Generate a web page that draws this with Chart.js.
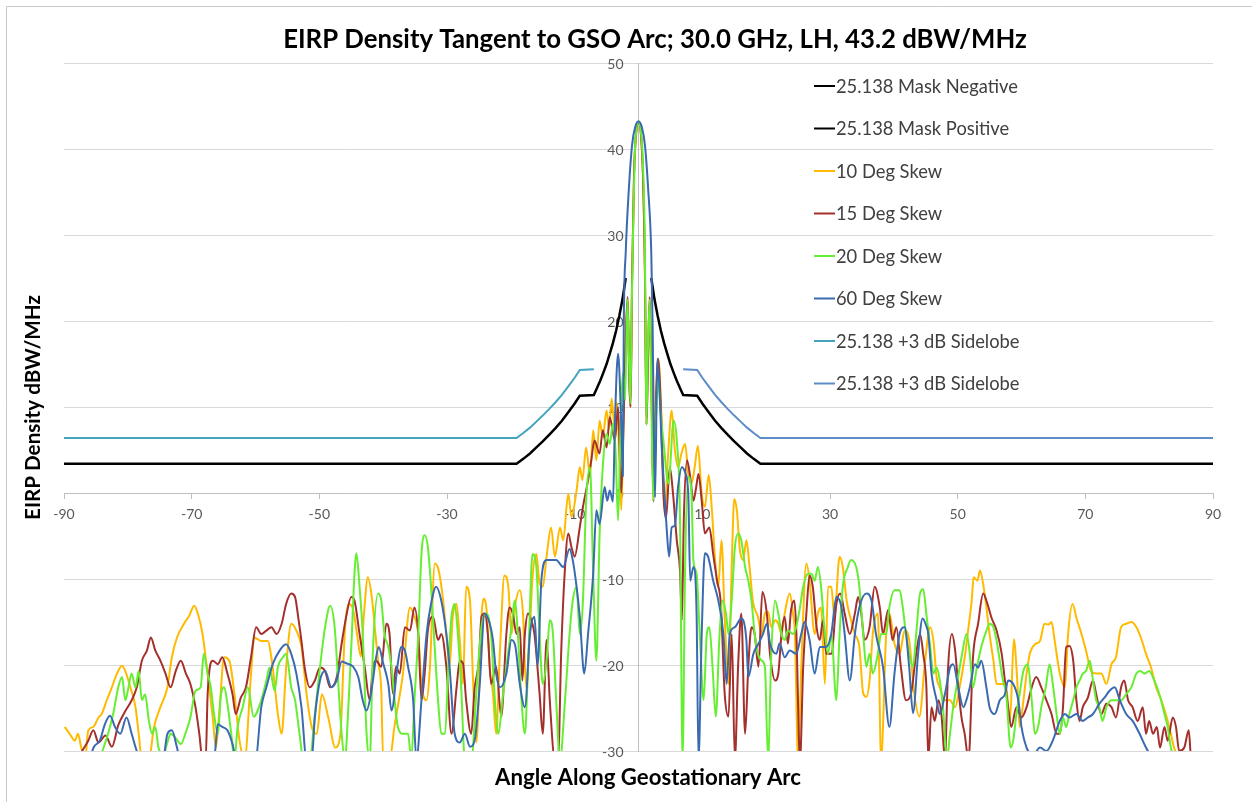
<!DOCTYPE html>
<html><head><meta charset="utf-8">
<script src="https://cdn.jsdelivr.net/npm/chart.js@4.4.1/dist/chart.umd.min.js"></script>
<style>html,body{margin:0;padding:0;background:#fff;overflow:hidden}canvas{display:block}</style>
</head><body>
<canvas id="c" width="1252" height="802"></canvas>
<script>
const chartTitle = 'EIRP Density Tangent to GSO Arc; 30.0 GHz, LH, 43.2 dBW/MHz';
const xAxisTitle = 'Angle Along Geostationary Arc';
const yAxisTitle = 'EIRP Density dBW/MHz';
const seriesLabels = ['25.138 Mask Negative','25.138 Mask Positive','10 Deg Skew','15 Deg Skew','20 Deg Skew','60 Deg Skew','25.138 +3 dB Sidelobe','25.138 +3 dB Sidelobe'];
const xTickStep = 20, yTickStep = 10;

const maskNegAngles = [-90,-19.1,-18,-17,-16,-15,-14,-13,-12,-11,-10,-9.2,-7,-6.5,-6,-5.5,-5,-4.5,-4,-3.5,-3,-2.5,-2];
const maskNegValues = [3.4,3.4,4.0,4.6,5.3,6.0,6.75,7.55,8.4,9.4,10.4,11.3,11.4,12.2,13.05,14.0,15.0,16.2,17.45,18.9,20.6,22.55,25.0];
const maskPosAngles = [2,2.5,3,3.5,4,4.5,5,5.5,6,6.5,7,9.2,10,11,12,13,14,15,16,17,18,19.1,90];
const maskPosValues = [25.0,22.55,20.6,18.9,17.45,16.2,15.0,14.0,13.05,12.2,11.4,11.3,10.4,9.4,8.4,7.55,6.75,6.0,5.3,4.6,4.0,3.4,3.4];
const sidelobeNegAngles = [-90,-19.1,-18,-17,-16,-15,-14,-13,-12,-11,-10,-9.2,-7];
const sidelobeNegValues = [6.4,6.4,7.0,7.6,8.3,9.0,9.75,10.55,11.4,12.4,13.4,14.3,14.4];
const sidelobePosAngles = [7,9.2,10,11,12,13,14,15,16,17,18,19.1,90];
const sidelobePosValues = [14.4,14.3,13.4,12.4,11.4,10.55,9.75,9.0,8.3,7.6,7.0,6.4,6.4];

const skew10Angles = [-89.9,-89.1,-88.3,-87.8,-87.3,-86.7,-86.2,-85.4,-84.6,-84.1,-83.3,-82.5,-81.7,-80.9,-80.4,-79.6,-78.8,-78.3,-77.8,-76.7,-75.9,-74.9,-73.8,-73.1,-72.3,-71.2,-70.4,-69.6,-69,-68.3,-67.5,-66.7,-66.2,-65.7,-64.9,-64.1,-63.3,-62.5,-61.7,-60.7,-60.2,-59.1,-58.1,-57.3,-56.5,-55.9,-55.2,-54.4,-53.6,-52.8,-52,-51.2,-50.4,-49.6,-48.6,-47.5,-46.7,-46,-45.4,-44.8,-44.1,-43.5,-43,-42.4,-41.8,-41.2,-40.8,-40.3,-40,-39,-38.2,-36.9,-35.8,-35.2,-34.5,-34,-33.2,-32.7,-31.9,-31.3,-30.6,-30.1,-29.6,-29.1,-28.5,-28,-27.5,-27,-26.4,-25.9,-25.4,-24.6,-24.3,-23.8,-23.3,-22.8,-22.3,-21.7,-21,-20.4,-19.9,-19.4,-18.6,-18.1,-17.6,-17,-16.6,-16,-15.5,-15,-14.4,-13.7,-13.1,-12.3,-11.8,-11,-10.5,-9.7,-9.2,-8.8,-8.2,-7.6,-7.1,-6.6,-6.1,-5.6,-5,-4.6,-4.2,-3.8,-3.4,-3,-2.7,-2.35,-2,-1.7,-1.45,-1.25,-1,-0.7,-0.35,0,0.35,0.7,1,1.25,1.45,1.75,2,2.3,2.6,3.1,3.6,4.1,4.6,5.2,5.7,6.2,6.7,7.3,7.8,8.3,8.8,9.3,9.9,10.4,11,11.5,12,12.5,13,13.5,14.1,14.6,15,15.4,15.9,16.4,16.9,17.4,17.9,18.7,19.3,19.8,20.3,20.8,21.4,21.9,22.4,22.9,23.7,24.2,24.5,25,25.5,26.3,26.8,27.6,28.1,28.6,29.2,29.7,30.2,30.7,31.5,32,32.6,33.3,33.9,34.6,35.2,35.7,36.2,36.7,37.5,38,38.8,39.3,40.1,40.9,41.7,42.4,43.2,44,44.9,45.7,46.2,46.7,47.2,48,48.8,49.6,50.3,51.1,51.7,52.2,52.5,53.1,53.5,54,54.5,55,55.6,56.1,56.9,57.6,58.2,58.8,59.3,59.7,60.3,60.8,61.3,62.1,62.9,63.6,64.2,64.7,65.2,66,66.8,67.3,68,68.6,69.4,70.1,70.9,71.7,72.5,73.3,74.1,74.8,75.6,76.4,77.2,78,78.7,79.5,80.3,81.1,81.9,82.6,83.4,83.9,84.7];
const skew10Values = [-27.2,-28,-28.8,-28,-29.6,-31,-27.6,-27.2,-26.1,-25.7,-24.1,-22.6,-21,-20.1,-20.7,-22.6,-24.9,-28,-31,-31,-27.2,-24.9,-22.6,-19.1,-16.8,-15.2,-14.3,-13.1,-14.1,-16.4,-21,-26.1,-29.6,-25.7,-19.1,-19.5,-23.4,-28.8,-31,-21,-16.8,-17.2,-17.2,-20.3,-25.7,-28,-20.3,-15.2,-16,-17.9,-23.4,-27.2,-28,-23.4,-26.1,-29.6,-28,-16,-12.9,-13.3,-16.4,-19,-14,-9.8,-12,-16.5,-19.5,-22.9,-31,-31,-27,-21,-13.3,-14.2,-16.4,-22.2,-24.1,-20.6,-8.2,-9,-12.5,-16.4,-20.2,-14.4,-12.9,-17.1,-22.2,-10.9,-12.5,-22.2,-29,-14.4,-12.3,-13.6,-20.2,-23.3,-28,-18.3,-9.6,-10.9,-16.4,-13.3,-11.3,-14,-22.6,-15.6,-9.8,-7.1,-10.5,-10.9,-7.4,-4,-7.4,-4,-5.5,-0.1,-2.8,0.3,3,1.5,5.3,1.9,7.3,3.8,8.4,6.5,9.6,7.5,11,8,10.5,4,-2,8,18,22.6,14,10,25,37,42,43.2,42,37,26,8,14,22.6,15,0,8,15.6,9,-2,4,9.6,5,3,4.5,5.7,2.2,1.1,3,5.5,-0.1,-1.6,2.1,-2,-7.8,-10.9,-5.5,-14.4,-22.2,-8.6,-0.7,-2,-6.7,-7.8,-5.5,-8.6,-12.5,-14.4,-16.4,-14,-13.8,-15.6,-14.8,-15.2,-16.4,-14,-11.7,-14,-16.4,-31,-20.2,-8.2,-10.2,-16.4,-14,-13.3,-22.2,-10.9,-10.9,-14.4,-7.4,-8.6,-12.5,-14.8,-16.4,-17.9,-23.3,-23.7,-21.8,-16.4,-14,-31,-16.4,-14,-17.5,-18.7,-16,-17.1,-23.3,-26,-19.5,-15.6,-17.2,-21.4,-22.6,-24.1,-24.1,-24.9,-22.6,-19.1,-15.6,-12.5,-9.8,-10.2,-9,-10.6,-13.3,-16.4,-19.5,-22.2,-22.2,-22.6,-26.5,-17,-21.4,-27.2,-24.1,-21,-18.7,-17.6,-17.2,-15.2,-15.3,-15,-17.2,-21,-22.6,-16.4,-12.9,-14.5,-16.4,-18.3,-20.7,-21,-21,-22.2,-19.9,-19.1,-15.6,-15.2,-15,-15.6,-16.8,-18.7,-20.3,-22.6,-24.1,-25.7,-28,-29.6,-31];

const skew15Angles = [-88,-87,-86.2,-85.4,-84.6,-83.5,-82.5,-81.5,-80.5,-79.4,-78.6,-77.8,-77,-76.4,-75.7,-74.9,-74.1,-73.3,-72.5,-71.7,-70.9,-70.2,-69.4,-68.8,-68.3,-67.8,-67.5,-66.7,-65.9,-65.2,-64.4,-63.6,-63.1,-62.3,-61.5,-60.7,-59.9,-59.1,-58.3,-57.5,-56.7,-55.9,-55.2,-54.4,-53.8,-53.3,-52.8,-52.3,-51.5,-50.7,-49.9,-49.1,-48.3,-47.3,-46.5,-45.8,-45,-44.5,-43.7,-42.9,-42.1,-41.6,-41.1,-40.3,-39.5,-39,-38.5,-38,-37.4,-36.6,-35.8,-35.1,-34.5,-34,-33.5,-33,-32.2,-31.4,-30.9,-30.1,-29.3,-28.5,-28,-27.5,-27,-26.2,-25.7,-25,-24.6,-24.1,-23.6,-23.1,-22.3,-21.5,-20.7,-20.2,-19.7,-19.1,-18.6,-18.2,-17.8,-17.3,-16.8,-16.3,-15.5,-15,-14.4,-13.9,-13.1,-12.6,-12.1,-11.6,-11,-10.5,-10,-9.2,-8.7,-7.9,-7.4,-6.9,-6.1,-5.6,-5,-4.5,-3.7,-3.2,-2.7,-2.35,-2,-1.7,-1.45,-1.25,-1,-0.7,-0.35,0,0.35,0.7,1,1.25,1.45,1.75,2,2.35,2.65,3.05,3.5,3.9,4.3,4.9,5.4,6,6.5,6.8,7.1,7.6,8.1,8.6,9,9.4,9.9,10.4,11.1,11.7,12.3,12.9,13.5,14.1,14.6,15.1,15.6,16.1,16.7,17.2,17.7,18.2,18.8,19.4,20.1,20.6,21.4,21.9,22.4,22.9,23.4,23.9,24.4,24.7,25.3,25.8,26.3,26.8,27.3,27.9,28.4,28.9,29.4,30.2,31,31.6,32.3,33.1,33.9,34.4,34.9,35.4,36.2,37,37.8,38.3,39.1,39.8,40.4,41.1,41.9,42.7,43.5,44.1,44.6,45.1,45.4,45.9,46.4,47,47.5,48,48.5,49.1,49.6,50.1,50.6,51.1,51.7,52.4,53.2,54,54.5,55.3,56.1,56.9,57.4,57.9,58.4,59.2,60,60.8,61.6,62.3,63.1,63.9,64.7,65.5,66,66.5,67,67.5,68.1,68.6,69.1,69.6,70.4,71.2,71.7,72.5,73.3,74.1,74.8,75.6,76.1,76.7,77.4,78.2,79,79.5,80,80.6,81.2,81.7,82.4,82.9,83.7,84.2,84.7,85.5,86.2,86.6,87.5];
const skew15Values = [-31,-29.8,-28.8,-27.6,-29,-28.2,-29.5,-27,-25.5,-24.1,-22.6,-19.5,-18.3,-16.8,-18.3,-19.5,-21,-22.6,-20.7,-19.5,-21,-22.2,-24.9,-28,-31,-31,-23.4,-19.5,-19.9,-19.1,-21,-23.4,-25.7,-23.8,-22.6,-19.1,-15.6,-16.4,-16,-15.6,-16.4,-15.2,-12.9,-11.7,-12.1,-14.5,-17.2,-20.3,-22.6,-21.8,-20.3,-20.7,-22.6,-21.5,-17.5,-14.4,-12.1,-12.5,-16.4,-20.2,-24.1,-20.2,-19.5,-20.2,-15.2,-16.4,-23.3,-20.2,-21,-15.6,-16,-13.3,-16.4,-24.1,-21,-16,-14.4,-17.1,-16.4,-20.2,-28,-22.6,-19.5,-19.8,-24.1,-28,-22.9,-19.5,-14.4,-14,-16.4,-22.2,-20.2,-26,-16.4,-13.3,-14,-16.4,-15.6,-21.8,-16.4,-14,-14.8,-16.4,-23.3,-28,-17.1,-24.1,-31,-31,-18.3,-9.8,-4.7,-6.3,-7.4,-4,-1.6,1.5,3.8,6.1,4.6,7.3,5.3,8.8,6.1,10,0,8,18,22.8,13,10,25,37,42,43.2,42,37,26,8,14,22.8,14,-1,8,15.6,10,0,-3,3,0,-5.5,-9,-14.8,-3,3.8,1.9,-0.9,0.5,2.2,-0.9,-4.7,-4,-7.1,-10.2,-12.9,-23.3,-26,-16.4,-31,-20.2,-14,-28,-20.2,-15.6,-16.4,-20.2,-11.5,-14,-18.7,-21.8,-21,-16.4,-14.4,-17.5,-13.6,-12.5,-15.6,-31,-20.2,-14,-9.6,-10.9,-15.6,-17.1,-14.8,-18.7,-18.7,-12.9,-11.7,-14,-16.4,-14,-12.1,-14,-17.1,-15.6,-10.9,-13.3,-16.4,-13.6,-17.1,-15.6,-20.2,-24.1,-23.3,-18.7,-16.4,-18.7,-22.6,-31,-24.9,-26.5,-24.1,-26.1,-31,-20.3,-16.4,-18.3,-22.6,-26.1,-28,-31,-19.1,-15.2,-11.7,-12.5,-14.5,-16,-18.7,-21.8,-24.9,-27.2,-24.9,-26.1,-24.9,-22.6,-21.4,-22.6,-24.1,-25.7,-28,-28,-24.9,-17.9,-17.8,-19.5,-24.1,-26.5,-24.9,-23.8,-21.8,-23.4,-25.7,-24.5,-24.9,-26.1,-22.6,-21.8,-24.1,-24.9,-26.5,-24.9,-28,-26.5,-28,-27.2,-29.6,-27.2,-28.8,-26.1,-27.2,-30,-29.6,-27.6,-31,-31];

const skew20Angles = [-84.5,-83.8,-83.1,-82.3,-81.5,-80.9,-80.4,-79.9,-79.4,-78.8,-78.3,-77.8,-77.3,-76.7,-76.2,-75.7,-75.2,-74.5,-73.8,-73.3,-72.5,-71.7,-71,-70.2,-69.4,-68.6,-68.1,-67.5,-67,-66.5,-65.9,-65.4,-64.9,-64.4,-63.8,-63.3,-62.8,-62,-61.2,-60.3,-59.1,-58.3,-57.8,-57,-56.5,-55.7,-55.2,-54.4,-53.8,-53.1,-52.5,-51.5,-50.7,-49.9,-49.1,-48.3,-47.6,-47,-46.5,-46,-45.4,-44.9,-44.6,-44.2,-43.7,-43.2,-42.6,-42.1,-41.6,-40.8,-40.3,-39.8,-39.2,-38.7,-38.2,-37.7,-36.9,-36.1,-35.6,-35.1,-34.5,-34,-33.5,-33,-32.5,-31.9,-31.4,-30.9,-30.3,-29.8,-29.3,-28.8,-28.3,-27.8,-27.2,-26.2,-25.3,-24.6,-23.8,-23.1,-22.5,-22,-21.2,-20.7,-19.9,-19.4,-18.9,-18.4,-17.8,-17.3,-16.6,-16,-15.5,-15,-14.4,-13.9,-13.4,-12.9,-12.3,-11.5,-10.8,-10.3,-9.7,-9.2,-8.7,-8.2,-7.6,-7.1,-6.6,-6.1,-5.6,-5,-4.5,-4,-3.6,-3.2,-2.8,-2.4,-2.1,-1.74,-1.5,-1.27,-1.05,-0.86,-0.6,-0.3,0,0.3,0.65,0.97,1.1,1.23,1.45,1.75,2,2.3,2.7,3.1,3.5,3.9,4.7,5.5,6,6.5,6.9,7.3,7.8,8.3,8.6,9.1,9.6,10.2,10.7,11.1,11.6,12.1,12.7,13.2,13.7,14.1,14.6,15.1,15.6,16.1,16.7,17.2,17.7,18.2,18.7,19.3,19.8,20.3,20.8,21.4,21.9,22.4,22.9,23.4,24.2,24.7,25.3,25.8,26.6,27.1,27.6,28.1,28.6,29.2,29.7,30.2,31,31.5,32,32.8,33.3,34.1,34.6,35.2,35.7,36.2,36.7,37.5,38,38.8,39.3,40.1,40.9,41.4,41.9,42.4,43,43.5,44.1,44.6,45.1,45.7,46.2,46.7,47.2,47.7,48.3,48.8,49.3,49.8,50.6,51.4,51.9,52.4,53,53.7,54.5,55,55.6,56.1,56.6,57.1,57.6,58.3,58.7,59.2,59.7,60.3,61,61.6,62.1,62.6,63.1,63.8,64.4,64.9,65.5,66,66.5,67,67.5,68.1,68.6,69.1,69.6,70.1,70.7,71.2,71.7,72.2,72.7,73.3,74.1,74.8,75.6,76.4,77.2,78,78.6,79.3,80,80.8,81.6,82.4,82.9,83.4,84];
const skew20Values = [-31,-29.6,-28,-25.7,-22.6,-21.4,-24.1,-22.6,-21,-22.6,-20.7,-24.1,-23.4,-26.5,-28,-27.2,-29.6,-30.5,-29,-28,-28.5,-29.2,-28,-26.1,-23,-22.6,-18.7,-21,-22.6,-25.7,-28,-23.4,-22.6,-24.5,-28,-31,-27.2,-24.9,-22.6,-26,-24.1,-21.8,-20.3,-23,-20.3,-19.1,-18.7,-22.6,-24.1,-28,-31,-31,-25.7,-20.3,-15.6,-13.1,-15.6,-22.6,-28,-31,-24.1,-16.4,-10.9,-7,-10.9,-16.4,-28,-31,-18.3,-11.7,-12.5,-16.4,-17.9,-20.2,-24.1,-27.2,-28,-28,-31,-24.1,-16.4,-7.1,-4.9,-6.3,-10.9,-18.3,-24.1,-28,-28,-20.2,-14.4,-12.9,-16.4,-22.2,-31,-31,-22,-15.6,-14,-16.4,-24.1,-28,-23.3,-20.2,-15.6,-12.5,-16.4,-23.3,-28,-20.2,-7.1,-8.6,-16.4,-22.2,-19.5,-14.8,-16.4,-24.1,-31,-24,-16.4,-12.5,-10.9,-16.4,-12.5,-0.9,3,-9.4,-19.5,-5,3,6.9,5.7,8.1,5,-3.2,8,14,10.8,22.5,16,10.4,22,30,39,42.5,43.2,42.5,39,30,20,7.9,16,22.5,12,-0.9,8,13,9,6.1,1.1,8.4,6.1,-2.8,-31,-8.6,1.9,-0.1,-7.8,-9.4,-16.4,-24.1,-16.4,-15.6,-20.2,-26,-16.4,-12.5,-14,-16.4,-12.5,-6.3,-4.7,-5.5,-8.6,-10.2,-12.5,-16.4,-18.7,-19.5,-20.2,-31,-18.7,-12.5,-14,-16.4,-17.1,-16,-16.4,-15.6,-13.3,-10.9,-9.4,-9.4,-10.2,-8.6,-10.9,-16.4,-18.7,-16.4,-24.1,-16.4,-10.9,-8.6,-7.8,-8.6,-10.9,-16.4,-20.2,-18.7,-21,-18.7,-16.4,-16.4,-13.3,-11.3,-11.3,-13.3,-16.4,-18.7,-20.2,-16.4,-11.7,-11.2,-14.1,-17.9,-21,-20.3,-21.8,-24.9,-31,-28,-24.9,-22.6,-19.1,-16.4,-18.7,-22.6,-20.3,-17.9,-16,-15.2,-15.6,-17.2,-19.5,-21.8,-23.4,-29.6,-28.8,-25.7,-23.4,-20.7,-19.9,-24.1,-28,-27.2,-24.9,-22.6,-19.9,-22.2,-25.7,-28,-26.1,-27.2,-25.7,-24.1,-22.6,-21.8,-21,-20.7,-19.5,-21.8,-24.1,-24.9,-26.5,-24.9,-24.1,-24.1,-24.1,-23.4,-22.6,-21,-20.7,-21,-20.7,-21.8,-23.4,-25.7,-27.2,-29.6,-31];

const skew60Angles = [-86,-85.3,-84.4,-83.6,-82.8,-82,-81.2,-80.2,-79.4,-78.6,-78,-74.5,-73.8,-73.1,-72.3,-71.8,-66.5,-65.9,-65.2,-64.4,-63.6,-63,-60,-59.1,-58.3,-57.3,-56.2,-55.2,-54.4,-53.6,-52.8,-52,-51.2,-50.7,-49.9,-49.1,-48.1,-47.3,-46.5,-45.8,-44.7,-43.9,-43.2,-42.6,-41.9,-41.1,-40.7,-40,-39.2,-38.7,-37.7,-37.2,-36.6,-36.1,-35.3,-34.8,-34,-33.2,-32.5,-31.7,-30.9,-30.1,-29.6,-28.8,-28,-27.2,-26.4,-25.6,-24.9,-24.1,-23.3,-22.8,-22.3,-21.7,-20.7,-19.9,-19.3,-18.6,-17.8,-17,-16.3,-15.8,-15.2,-14.4,-12.9,-11.8,-10.8,-10.3,-9.7,-9.2,-8.5,-7.9,-7.1,-6.6,-6.1,-5.3,-4.9,-4.5,-4,-3.7,-3.2,-2.7,-2.45,-2.3,-2,-1.5,-1,-0.5,0,0.5,1,1.5,2,2.2,2.45,2.6,2.95,3.3,3.6,4.1,4.4,4.8,5.2,5.7,6.2,6.8,7.3,7.8,8.1,8.6,9.1,9.4,9.9,10.4,10.9,11.7,12.5,13.3,13.8,14.3,15.1,16.1,16.9,17.2,18,18.8,19.5,20.1,20.6,21.6,22.1,22.9,23.7,24.7,25.5,26,26.8,27.6,28.4,29.4,30.2,31,31.8,32.3,33.1,33.9,34.6,35.7,36.5,37.2,38.3,39.3,40.1,40.9,41.7,42.4,43,43.8,44.5,45.1,45.4,45.9,46.7,47.2,48,48.8,49.3,50.1,50.9,51.4,51.9,52.7,53.2,53.7,54.5,55,55.8,56.6,57.4,57.9,58.7,59.5,60,60.8,61.8,62.9,63.9,64.9,66,66.8,67.5,68.6,69.6,70.4,71.2,72.2,73,73.8,74.6,75.4,76.4,77.4,78.5,79.5,80.6];
const skew60Values = [-31,-29.5,-28.8,-26.9,-25.9,-27.2,-28,-26.1,-28,-30,-31,-31,-28,-27.6,-29.6,-31,-31,-26.9,-27.2,-27.6,-29.2,-31,-31,-24.9,-22.6,-19.9,-18.3,-17.6,-18.7,-21,-24.9,-31,-31,-26.1,-21.8,-20.7,-22.6,-21.8,-19.6,-19.8,-20.2,-21.4,-24.1,-25.3,-23.3,-19.1,-17.9,-19.8,-22.2,-25.3,-19.8,-17.9,-18.3,-20.2,-24.1,-31,-24.1,-16.4,-12.9,-10.9,-12.5,-16.4,-20.2,-28,-29,-28,-29.5,-28.5,-22.6,-14,-15.2,-17.1,-21,-22.6,-21,-17.1,-17.8,-22.2,-24.9,-16.4,-14.4,-20,-10,-7.8,-7.8,-8.6,-6.5,-7.8,-10.9,-14.4,-21,-16.4,-9.4,-2,-3.6,0.7,-0.9,0.3,-1,8,16.2,8,2,20,28,35.5,40.5,42.6,43.2,42.6,40.5,35.5,28,20,5,-0.5,15.6,12,6,-0.5,-4,-7.4,-4,-3.8,0.7,3,2.4,-0.1,-10.2,-8.6,-14,-31,-16.4,-7,-7.4,-10.2,-12.5,-16.4,-22.2,-16.4,-15.6,-14.6,-17.1,-21.4,-18.7,-17.5,-16.4,-15.2,-17.5,-18.7,-17.5,-19.1,-18.3,-18.7,-16.4,-15,-17.1,-21,-17.9,-17.9,-16.4,-12.1,-13.3,-16.4,-21.8,-16.4,-13.3,-11.7,-12.5,-16.4,-20.2,-27.2,-21,-16.4,-15.6,-20.2,-25.6,-18.7,-14.6,-15.5,-16.4,-21,-24.1,-25.7,-23.4,-20.3,-19.9,-22.6,-24.9,-24,-22.6,-19.9,-20.3,-19.5,-22.6,-24.9,-25.7,-24.1,-23.4,-21.8,-22.2,-24.1,-27.2,-29.6,-30.5,-29.6,-30,-28.8,-26.5,-25.7,-26.1,-25.7,-26.5,-26.1,-25.7,-24.5,-23.8,-23,-22.6,-24.1,-25.7,-26.5,-28,-29.6,-31];

function pts(a, v) { return a.map((x, i) => ({ x: x, y: v[i] })); }

const seriesColors = ['#000000','#000000','#FFBA00','#A3302C','#66EE33','#3A6BB0','#45A3BD','#5E8CC8'];
const seriesData = [
  pts(maskNegAngles, maskNegValues),
  pts(maskPosAngles, maskPosValues),
  pts(skew10Angles, skew10Values),
  pts(skew15Angles, skew15Values),
  pts(skew20Angles, skew20Values),
  pts(skew60Angles, skew60Values),
  pts(sidelobeNegAngles, sidelobeNegValues),
  pts(sidelobePosAngles, sidelobePosValues)
];
const isNoise = [false,false,true,true,true,true,false,false];
const widths = [2.5,2.5,2,2,2,2,2,2];

const datasets = seriesData.map((d, i) => ({
  label: seriesLabels[i],
  data: d,
  borderColor: seriesColors[i],
  backgroundColor: seriesColors[i],
  borderWidth: widths[i],
  pointRadius: 0,
  fill: false,
  cubicInterpolationMode: isNoise[i] ? 'monotone' : 'default',
  tension: 0,
  order: seriesData.length - i
}));

const FONT = 'Lato, "Open Sans", sans-serif';
function fitSize(ctx, text, weight, target) {
  ctx.font = weight + ' 20px ' + FONT;
  const w = ctx.measureText(text).width;
  return 20 * target / w;
}

const decor = {
  id: 'decor',
  beforeDraw(chart) {
    const ctx = chart.ctx;
    ctx.save();
    ctx.fillStyle = '#ffffff';
    ctx.fillRect(0, 0, chart.width, chart.height);
    ctx.strokeStyle = '#C8C8C8';
    ctx.lineWidth = 1;
    ctx.beginPath();
    ctx.moveTo(6.5, chart.height); ctx.lineTo(6.5, 6.5); ctx.lineTo(chart.width, 6.5);
    ctx.stroke();
    ctx.restore();
  },
  beforeDatasetsDraw(chart) {
    // y tick labels, right-aligned a little left of the vertical axis (drawn under the lines)
    const ctx = chart.ctx;
    const ys = chart.scales.y, xs = chart.scales.x;
    const axisX = xs.getPixelForValue(0);
    ctx.save();
    ctx.font = '14px ' + FONT;
    ctx.fillStyle = '#595959';
    ctx.textAlign = 'right';
    ctx.textBaseline = 'middle';
    ys.ticks.forEach(t => {
      ctx.fillText(String(t.value), axisX - 15, ys.getPixelForValue(t.value) + 1);
    });
    ctx.restore();
  },
  afterDraw(chart) {
    const ctx = chart.ctx;
    ctx.save();
    ctx.fillStyle = '#000000';
    let s = fitSize(ctx, chartTitle, 'bold', 744);
    ctx.font = 'bold ' + s + 'px ' + FONT;
    ctx.textAlign = 'center'; ctx.textBaseline = 'alphabetic';
    ctx.fillText(chartTitle, 655, 48);
    s = fitSize(ctx, xAxisTitle, 'bold', 306);
    ctx.font = 'bold ' + s + 'px ' + FONT;
    ctx.fillText(xAxisTitle, 648, 785);
    s = fitSize(ctx, yAxisTitle, 'bold', 225);
    ctx.font = 'bold ' + s + 'px ' + FONT;
    ctx.translate(40, 407.5);
    ctx.rotate(-Math.PI / 2);
    ctx.fillText(yAxisTitle, 0, 0);
    ctx.restore();
    ctx.save();
    const ls = fitSize(ctx, seriesLabels[0], 'normal', 182);
    ctx.font = 'normal ' + ls + 'px ' + FONT;
    ctx.textAlign = 'left'; ctx.textBaseline = 'middle';
    chart.data.datasets.forEach((ds, i) => {
      const y = 86 + i * 42.5;
      ctx.strokeStyle = ds.borderColor;
      ctx.lineWidth = 2;
      ctx.beginPath(); ctx.moveTo(814, y); ctx.lineTo(835, y); ctx.stroke();
      ctx.fillStyle = '#404040';
      ctx.fillText(ds.label, 836, y + 1);
    });
    ctx.restore();
  }
};

new Chart(document.getElementById('c'), {
  type: 'line',
  data: { datasets: datasets },
  plugins: [decor],
  options: {
    responsive: false,
    animation: false,
    devicePixelRatio: 1,
    layout: { padding: { left: 64, right: 39, top: 63, bottom: 51 } },
    plugins: { legend: { display: false }, tooltip: { enabled: false }, title: { display: false } },
    scales: {
      x: {
        type: 'linear', min: -90, max: 90, position: { y: 0 },
        ticks: { stepSize: xTickStep, autoSkip: false, maxRotation: 0, color: '#595959', font: { family: FONT, size: 14 }, padding: 8 },
        grid: { drawOnChartArea: false, drawTicks: true, tickLength: 5, color: '#BFBFBF' },
        border: { color: '#BFBFBF', width: 1 }
      },
      y: {
        type: 'linear', min: -30, max: 50, position: { x: 0 },
        ticks: { stepSize: yTickStep, display: false },
        grid: { drawTicks: false, color: '#D9D9D9' },
        border: { color: '#BFBFBF', width: 1 }
      }
    }
  }
});
</script>
</body></html>
